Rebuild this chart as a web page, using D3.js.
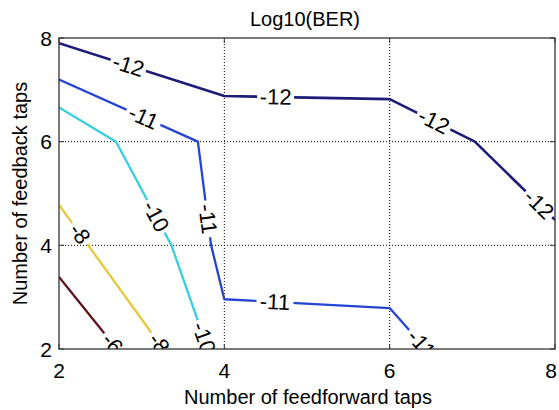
<!DOCTYPE html>
<html>
<head>
<meta charset="utf-8">
<script src="https://cdn.jsdelivr.net/npm/d3@7"></script>
<style>
  body { margin: 0; background: #fff; }
  text { font-family: Arial, "Liberation Sans", sans-serif; }
</style>
</head>
<body>
<svg width="559" height="410"></svg>
<script>
// contour levels and their polylines (data coords: feedforward taps, feedback taps)
const levels = [-12, -11, -10, -8, -6];
const contour12 = [[2, 7.90], [4, 6.88], [6, 6.82], [7.03, 6.0], [8, 4.49]];
const contour11 = [[2, 7.20], [3.68, 6.0], [3.84, 4.0], [4, 2.96], [6, 2.79], [6.44, 2.0]];
const contour10 = [[2, 6.66], [2.69, 6.0], [3.36, 4.0], [3.80, 2.0]];
const contour8 = [[2, 4.78], [3.26, 2.0]];
const contour6 = [[2, 3.39], [2.70, 2.0]];

// clabel anchor points (data coords)
const labels12 = [[2.82, 7.38], [4.62, 6.80], [6.51, 6.32], [7.76, 4.72]];
const labels11 = [[2.98, 6.32], [3.75, 4.5], [4.61, 2.83], [6.37, 2.08]];
const labels10 = [[3.16, 4.55], [3.72, 2.2]];
const labels8 = [[2.23, 4.2], [3.2, 2.1]];
const labels6 = [[2.64, 2.1]];

const xTicks = [2, 4, 6, 8];
const yTicks = [2, 4, 6, 8];

const contours = [contour12, contour11, contour10, contour8, contour6];
const labelSets = [labels12, labels11, labels10, labels8, labels6];
const colors = ["#1c1c78", "#2444d4", "#35cfe0", "#e8c83a", "#5c1218"];

const svg = d3.select("svg");
const padLeft = 59, padRight = 555, padTop = 38, padBottom = 349;

const x = d3.scaleLinear().domain([2, 8]).range([padLeft, padRight]);
const y = d3.scaleLinear().domain([2, 8]).range([padBottom, padTop]);

const defs = svg.append("defs");
defs.append("clipPath").attr("id", "plotclip")
    .append("rect").attr("x", padLeft).attr("y", padTop)
    .attr("width", padRight - padLeft).attr("height", padBottom - padTop);

// grid (dotted, inner ticks only)
const grid = svg.append("g");
xTicks.slice(1, -1).forEach(t => {
    grid.append("line")
        .attr("x1", x(t)).attr("x2", x(t)).attr("y1", padTop).attr("y2", padBottom)
        .attr("stroke", "#000").attr("stroke-width", 1).attr("stroke-dasharray", "1,2");
});
yTicks.slice(1, -1).forEach(t => {
    grid.append("line")
        .attr("y1", y(t)).attr("y2", y(t)).attr("x1", padLeft).attr("x2", padRight)
        .attr("stroke", "#000").attr("stroke-width", 1).attr("stroke-dasharray", "1,2");
});

// work out label placements: snap anchor to nearest point on polyline
function place(pts, anchor) {
    const px = pts.map(p => [x(p[0]), y(p[1])]);
    const a = [x(anchor[0]), y(anchor[1])];
    let best = null;
    for (let i = 0; i < px.length - 1; i++) {
        const [x1, y1] = px[i], [x2, y2] = px[i + 1];
        const dx = x2 - x1, dy = y2 - y1;
        let t = ((a[0] - x1) * dx + (a[1] - y1) * dy) / (dx * dx + dy * dy);
        t = Math.max(0, Math.min(1, t));
        const qx = x1 + t * dx, qy = y1 + t * dy;
        const d = Math.hypot(a[0] - qx, a[1] - qy);
        if (!best || d < best.d) {
            let ang = Math.atan2(dy, dx) * 180 / Math.PI;
            if (ang > 90) ang -= 180;
            if (ang <= -90) ang += 180;
            best = { d, x: qx, y: qy, ang };
        }
    }
    return best;
}

const placed = labelSets.map((set, i) => set.map(a => place(contours[i], a)));

// mask to break lines where labels sit
const mask = defs.append("mask").attr("id", "labelgap")
    .attr("maskUnits", "userSpaceOnUse")
    .attr("x", 0).attr("y", 0).attr("width", 559).attr("height", 410);
mask.append("rect").attr("width", 559).attr("height", 410).attr("fill", "#fff");
placed.forEach((set, i) => {
    const w = String(levels[i]).length * 11 + 4;
    set.forEach(p => {
        mask.append("rect")
            .attr("x", -w / 2).attr("y", -8).attr("width", w).attr("height", 16)
            .attr("fill", "#000")
            .attr("transform", `translate(${p.x},${p.y}) rotate(${p.ang})`);
    });
});

const plot = svg.append("g").attr("clip-path", "url(#plotclip)");
const lineGen = d3.line().x(d => x(d[0])).y(d => y(d[1]));

plot.append("g").attr("mask", "url(#labelgap)")
    .selectAll("path")
    .data(contours)
    .join("path")
    .attr("d", lineGen)
    .attr("fill", "none")
    .attr("stroke", (d, i) => colors[i])
    .attr("stroke-width", (d, i) => i == 0 ? 2.6 : 2.3)
    .attr("stroke-linejoin", "round");

placed.forEach((set, i) => {
    set.forEach(p => {
        plot.append("text")
            .attr("transform", `translate(${p.x},${p.y}) rotate(${p.ang})`)
            .attr("text-anchor", "middle")
            .attr("dominant-baseline", "central")
            .attr("font-size", 22)
            .attr("fill", "#000")
            .text(levels[i]);
    });
});

// axes box
svg.append("rect")
    .attr("x", padLeft).attr("y", padTop).attr("width", padRight - padLeft).attr("height", padBottom - padTop)
    .attr("fill", "none").attr("stroke", "#333").attr("stroke-width", 1.3);

// ticks
xTicks.forEach(t => {
    svg.append("line").attr("x1", x(t)).attr("x2", x(t)).attr("y1", padBottom).attr("y2", padBottom - 5)
        .attr("stroke", "#333");
    svg.append("line").attr("x1", x(t)).attr("x2", x(t)).attr("y1", padTop).attr("y2", padTop + 5)
        .attr("stroke", "#333");
    svg.append("text").attr("x", Math.min(x(t), 551)).attr("y", 378)
        .attr("text-anchor", "middle").attr("font-size", 21).text(t);
});
yTicks.forEach(t => {
    svg.append("line").attr("x1", padLeft).attr("x2", padLeft + 5).attr("y1", y(t)).attr("y2", y(t))
        .attr("stroke", "#333");
    svg.append("line").attr("x1", padRight).attr("x2", padRight - 5).attr("y1", y(t)).attr("y2", y(t))
        .attr("stroke", "#333");
    svg.append("text").attr("x", 52).attr("y", y(t) + 7.5)
        .attr("text-anchor", "end").attr("font-size", 21).text(t);
});

// titles
svg.append("text").attr("x", 305).attr("y", 26)
    .attr("text-anchor", "middle").attr("font-size", 20).text("Log10(BER)");
svg.append("text").attr("x", 308).attr("y", 404)
    .attr("text-anchor", "middle").attr("font-size", 20).text("Number of feedforward taps");
svg.append("text")
    .attr("transform", `translate(27,${(padTop + padBottom) / 2}) rotate(-90)`)
    .attr("text-anchor", "middle").attr("font-size", 20).text("Number of feedback taps");
</script>
</body>
</html>
